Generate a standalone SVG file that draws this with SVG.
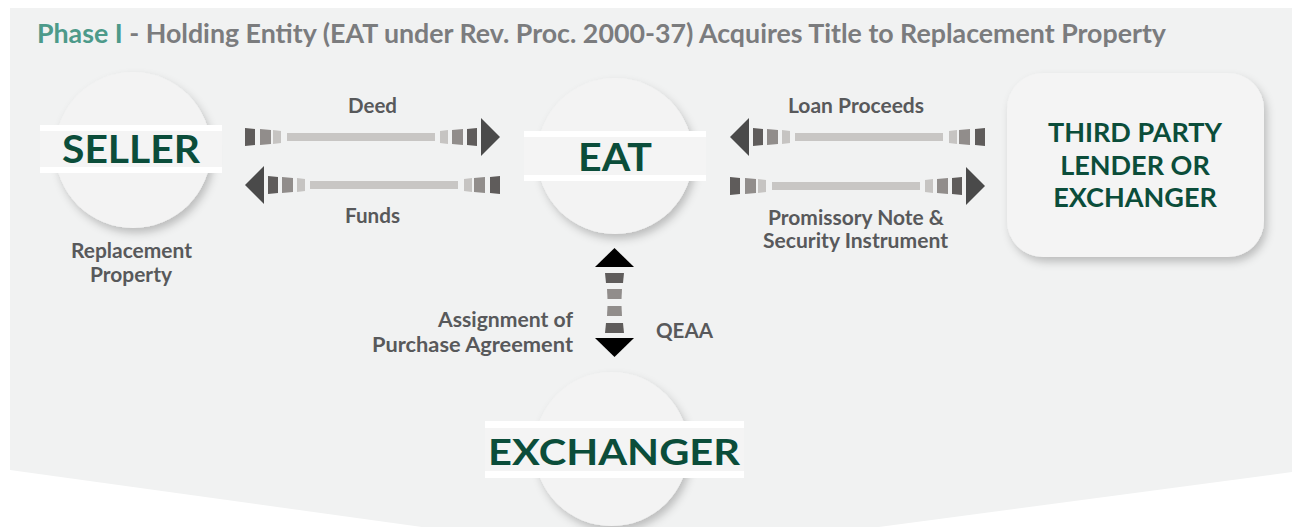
<svg xmlns="http://www.w3.org/2000/svg" width="1292" height="527" viewBox="0 0 1292 527">
<defs>
<style>
.lbl{font-family:Lato,"Liberation Sans",sans-serif;font-weight:700;font-size:21px;fill:#58595b}
.big{font-family:Lato,"Liberation Sans",sans-serif;font-weight:700;fill:#0b4d3a}
.circ{fill:#f3f3f3;filter:url(#sh)}
.band{fill:#f4f4f4}
.bline{fill:#ffffff}
.d1{fill:#5f5c5b}.d2{fill:#918d8b}.d3{fill:#c6c4c2}.ln{fill:#c8c6c4}.hd{fill:#4a4a4a}
</style>
<filter id="sh" x="-30%" y="-30%" width="160%" height="160%">
<feDropShadow dx="3" dy="5" stdDeviation="4" flood-color="#000" flood-opacity="0.22"/>
</filter>
<g id="arr">
<polygon class="d1" points="0,-9 10,-8 10,8 0,9"/>
<polygon class="d2" points="15,-8 26,-7 26,7 15,8"/>
<polygon class="d3" points="28,-7 36,-6 36,6 28,7"/>
<rect class="ln" x="42" y="-4" width="148" height="8"/>
<polygon class="d3" points="195,-6 203,-7 203,7 195,6"/>
<polygon class="d2" points="207,-7 218,-8 218,8 207,7"/>
<polygon class="d1" points="222,-8 232,-9 232,9 222,8"/>
<polygon class="hd" points="236,-19 255,0 236,19"/>
</g>
</defs>
<rect x="0" y="0" width="1292" height="527" fill="#ffffff"/>
<polygon points="10,8 1292,8 1292,472 646,558 10,470" fill="#f1f2f2"/>
<text x="37" y="43" font-family="Lato,'Liberation Sans',sans-serif" font-weight="700" font-size="27" textLength="1129" lengthAdjust="spacingAndGlyphs"><tspan fill="#4d9a8a">Phase I</tspan><tspan fill="#7b7c7e"> - Holding Entity (EAT under Rev. Proc. 2000-37) Acquires Title to Replacement Property</tspan></text>

<g id="connectors">
<use href="#arr" transform="translate(245,137)"/>
<use href="#arr" transform="translate(500,185) scale(-1,1)"/>
<use href="#arr" transform="translate(985,137) scale(-1,1)"/>
<use href="#arr" transform="translate(730,186)"/>
<g id="vert">
<polygon points="595,267 614.5,248 634,267" fill="#000"/>
<polygon points="605,273 624,273 623,283 606,283" class="d1"/>
<polygon points="607,289 622,289 621.5,299 607.5,299" class="d2"/>
<polygon points="607.5,306 621.5,306 622,316 607,316" class="d2"/>
<polygon points="606,323 623,323 624,333 605,333" class="d1"/>
<polygon points="595,338 634,338 614.5,357" fill="#000"/>
</g>
<text class="lbl" x="348" y="113" textLength="49" lengthAdjust="spacingAndGlyphs">Deed</text>
<text class="lbl" x="345" y="223" textLength="55" lengthAdjust="spacingAndGlyphs">Funds</text>
<text class="lbl" x="788" y="113" textLength="136" lengthAdjust="spacingAndGlyphs">Loan Proceeds</text>
<text class="lbl" x="768" y="225" textLength="176" lengthAdjust="spacingAndGlyphs">Promissory Note &amp;</text>
<text class="lbl" x="763" y="248" textLength="185" lengthAdjust="spacingAndGlyphs">Security Instrument</text>
<text class="lbl" x="438" y="327" textLength="135" lengthAdjust="spacingAndGlyphs">Assignment of</text>
<text class="lbl" x="372" y="352" textLength="201" lengthAdjust="spacingAndGlyphs">Purchase Agreement</text>
<text class="lbl" x="656" y="338" textLength="57" lengthAdjust="spacingAndGlyphs">QEAA</text>
</g>

<g id="seller">
<circle class="circ" cx="133" cy="150" r="78"/>
<rect class="band" x="40" y="125" width="182" height="48"/>
<rect class="bline" x="40" y="125" width="182" height="6"/>
<rect class="bline" x="40" y="167" width="182" height="6"/>
<text class="big" x="62" y="163" font-size="38" textLength="138" lengthAdjust="spacingAndGlyphs">SELLER</text>
<text class="lbl" x="71" y="258" textLength="121" lengthAdjust="spacingAndGlyphs">Replacement</text>
<text class="lbl" x="90" y="282" textLength="82" lengthAdjust="spacingAndGlyphs">Property</text>
</g>

<g id="eat">
<circle class="circ" cx="615" cy="156" r="78"/>
<rect class="band" x="524" y="131" width="182" height="50"/>
<rect class="bline" x="524" y="131" width="182" height="6"/>
<rect class="bline" x="524" y="175" width="182" height="6"/>
<text class="big" x="578" y="171" font-size="38" textLength="74" lengthAdjust="spacingAndGlyphs">EAT</text>
</g>

<g id="exchanger">
<circle class="circ" cx="611.5" cy="449" r="77"/>
<rect class="band" x="485" y="421" width="259" height="57"/>
<rect class="bline" x="485" y="421" width="259" height="7"/>
<rect class="bline" x="485" y="471" width="259" height="7"/>
<text class="big" x="488" y="465" font-size="37" textLength="252" lengthAdjust="spacingAndGlyphs">EXCHANGER</text>
</g>

<g id="lender">
<rect x="1007" y="73" width="257" height="184" rx="36" fill="#f4f4f4" filter="url(#sh)"/>
<text class="big" font-size="27" text-anchor="middle"><tspan x="1135" y="142">THIRD PARTY</tspan><tspan x="1135" y="175">LENDER OR</tspan><tspan x="1135" y="207">EXCHANGER</tspan></text>
</g>
</svg>
